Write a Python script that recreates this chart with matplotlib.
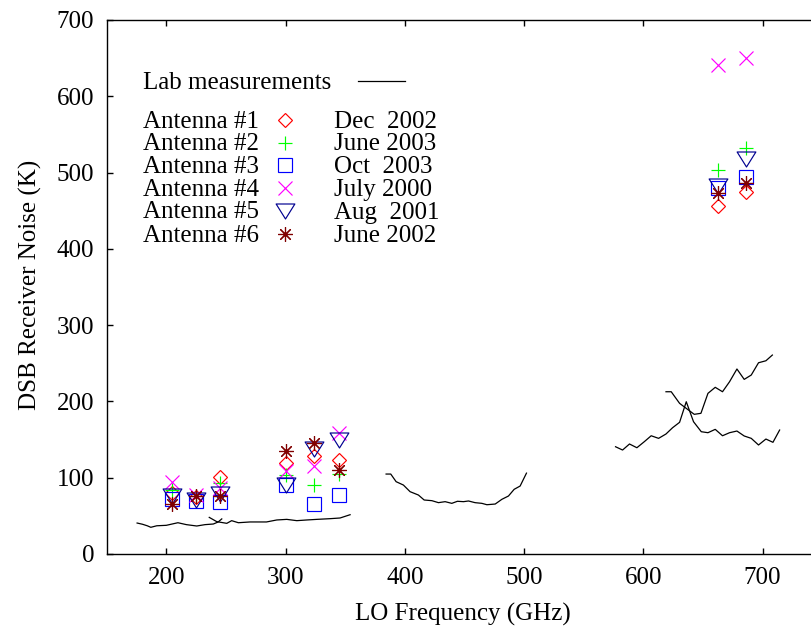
import numpy as np
import matplotlib
matplotlib.use("Agg")
import matplotlib.pyplot as plt
from matplotlib.path import Path

plt.rcParams["font.family"] = ["Liberation Serif", "DejaVu Serif"]
plt.rcParams["font.size"] = 18

# LO frequencies of the antenna measurements (GHz)
freq_ghz = [205, 225, 245, 300, 324, 345, 663, 686]

# DSB receiver noise (K) per antenna
ant1 = [80, 75, 101, 119, 128, 123, 456, 475]
ant2 = [84, 76, 93, 103, 91, 105, 503, 532]
ant3 = [72, 69, 68, 91, 65, 77, 480, 494]
ant4 = [95, 77, 87, 109, 115, 159, 641, 650]
ant5 = [76, 71, 78, 90, 138, 150, 482, 518]
ant6 = [66, 76, 76, 135, 145, 110, 473, 486]

antenna_names = ["Antenna #1", "Antenna #2", "Antenna #3",
                 "Antenna #4", "Antenna #5", "Antenna #6"]
dates = ["Dec  2002", "June 2003", "Oct  2003", "July 2000", "Aug  2001", "June 2002"]

# lab measurement curves
lab1_f = [175.5, 180, 184, 187, 192, 200, 209.7, 216.8, 225.5, 232.5, 239.4, 243.5, 246.5]
lab1_t = [40.6, 39, 37, 35, 37, 37.6, 41, 38.5, 36.7, 38.5, 39.3, 42, 46]
lab2_f = [236, 242.3, 250.7, 254.8, 260.4, 270.2, 284, 292.6, 301, 309.4,
          317.8, 326.2, 337.3, 345.7, 354.1]
lab2_t = [48, 42.4, 40.2, 43.7, 41, 42, 42, 44.6, 45.4, 43.7,
          44.6, 45.4, 46.3, 47.2, 51.5]
lab3_f = [384.3, 388.2, 392.7, 398.8, 404.4, 411.4, 416.2, 422.7, 428.2, 433.8,
          439.4, 444.1, 449.2, 453.4, 458.9, 464.6, 468.8, 475.8, 481.4, 486.9,
          491.7, 496.7, 502]
lab3_t = [104.8, 104.8, 94.8, 90.4, 81.7, 77.3, 70.8, 69.9, 67.3, 68.6,
          66.4, 69.1, 68.6, 69.5, 67.3, 66.4, 64.6, 65.5, 71.7, 76,
          84.8, 89.1, 106]
lab4_f = [576.7, 582.6, 588.4, 594.6, 600.8, 606.6, 612.8, 619, 624.5, 630.4,
          636, 642.1, 648.6, 654.2, 660.3, 666.4, 672.3, 678.5, 684.6, 690.5,
          696.6, 702.8, 708.7, 714.3]
lab4_t = [140.6, 136.3, 144.2, 139.3, 147.2, 155, 151.6, 157.3, 165.5, 172.6,
          199.6, 173.4, 160.3, 159, 163.4, 155, 159, 161.2, 154.7, 151.6,
          142.9, 150.7, 146.4, 162.5]
lab5_f = [619, 623.4, 630.4, 636, 642.7, 648.3, 654.2, 660.3, 666.4, 672.3,
          678.5, 684.6, 690.5, 696.6, 702.8, 708.2]
lab5_t = [212.7, 212.7, 197.5, 190.9, 183.1, 184.4, 210.6, 218.5, 212.7, 225.8,
          242.5, 228.9, 234.6, 250.7, 253.3, 260.8]

tri = Path([(-1, 0.8), (1, 0.8), (0, -0.8), (-1, 0.8)], closed=True)

styles = [
    dict(marker="D", color="#ff0000", ms=7.2),
    dict(marker="+", color="#00ff00", ms=9.5),
    dict(marker="s", color="#0000ff", ms=10.2),
    dict(marker="x", color="#ff00ff", ms=9.8),
    dict(marker=tri, color="#000090", ms=13.5),
    dict(marker=(8, 2, 0), color="#800000", ms=10.5),
]

W, H = 811, 631
fig = plt.figure(figsize=(W / 100, H / 100), dpi=100)

# axes frame in pixel terms: x 150..750 GHz, right edge runs past the image
left, right_px, top, bottom = 106.7, 822.2, 20, 554
ax = fig.add_axes([left / W, (H - bottom) / H, (right_px - left) / W, (bottom - top) / H])

for f, t in [(lab1_f, lab1_t), (lab2_f, lab2_t), (lab3_f, lab3_t),
             (lab4_f, lab4_t), (lab5_f, lab5_t)]:
    ax.plot(f, t, color="black", lw=0.9)

for vals, st in zip([ant1, ant2, ant3, ant4, ant5, ant6], styles):
    ax.plot(freq_ghz, vals, linestyle="none", marker=st["marker"], ms=st["ms"],
            mfc="none", mec=st["color"], mew=0.85)

ax.set_xlim(150, 750)
ax.set_ylim(0, 700)
ax.set_xticks([200, 300, 400, 500, 600, 700])
ax.set_yticks(np.arange(0, 701, 100))
ax.tick_params(direction="in", length=4, width=1.0, top=True, right=True,
               labelsize=18, pad=9)
for sp in ax.spines.values():
    sp.set_linewidth(1.0)

fig.text(463 / W, (H - 621) / H, "LO Frequency (GHz)", ha="center", va="baseline", fontsize=18)
fig.text(30 / W, (H - 285) / H, "DSB Receiver Noise (K)", ha="center", va="center",
         rotation=90, fontsize=18)

# key, drawn on an overlay in pixel coordinates
key = fig.add_axes([0, 0, 1, 1])
key.set_xlim(0, W)
key.set_ylim(H, 0)
key.axis("off")

key.text(143, 89.3, "Lab measurements", fontsize=18, va="baseline")
key.plot([357.7, 405], [81, 81], color="black", lw=0.9)

row_base = [128.3, 150.5, 173.3, 196, 218.5, 241.5]
for name, date, yb, st in zip(antenna_names, dates, row_base, styles):
    key.text(143, yb, name, fontsize=18, va="baseline")
    key.plot([285.3], [yb - 8], linestyle="none", marker=st["marker"], ms=st["ms"],
             mfc="none", mec=st["color"], mew=0.85)
    key.text(334, yb, date, fontsize=18, va="baseline")

fig.savefig("out.png", dpi=100)
